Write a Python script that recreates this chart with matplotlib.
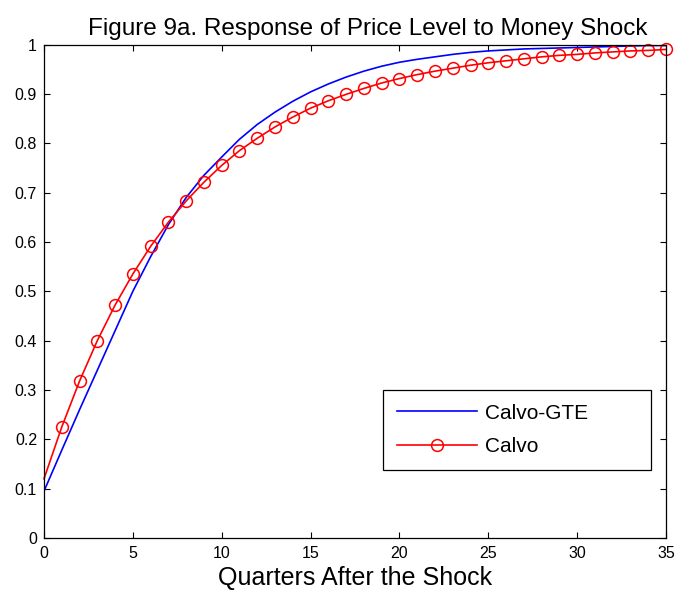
import numpy as np
import matplotlib
matplotlib.use("Agg")
import matplotlib.pyplot as plt
from matplotlib.ticker import FuncFormatter

plt.rcParams['font.family'] = ['Liberation Sans', 'DejaVu Sans']

quarters = np.arange(36)

# response of price level
calvo_gte = [0.095, 0.178, 0.260, 0.340, 0.420, 0.500, 0.570, 0.635, 0.690, 0.735,
             0.772, 0.808, 0.838, 0.863, 0.885, 0.904, 0.920, 0.934, 0.946, 0.956,
             0.964, 0.970, 0.975, 0.980, 0.984, 0.987, 0.989, 0.991, 0.992, 0.993,
             0.994, 0.995, 0.996, 0.997, 0.998, 0.998]
calvo = [0.120, 0.225, 0.318, 0.400, 0.472, 0.535, 0.591, 0.640, 0.683, 0.721,
         0.755, 0.785, 0.810, 0.833, 0.853, 0.871, 0.886, 0.899, 0.911, 0.922,
         0.931, 0.939, 0.946, 0.952, 0.958, 0.963, 0.967, 0.971, 0.975, 0.978,
         0.980, 0.983, 0.985, 0.987, 0.988, 0.990]

fig = plt.figure(figsize=(6.78, 5.99), dpi=100)
ax = fig.add_axes([0.0649, 0.1018, 0.9174, 0.8239])

ax.plot(quarters, calvo_gte, color='blue', lw=1.2, label='Calvo-GTE')
ax.plot(quarters, calvo, color='red', lw=1.2, marker='o', ms=8.5,
        mfc='none', mew=1.1, markevery=slice(1, None), clip_on=False,
        label='Calvo')

ax.set_xlim(0, 35)
ax.set_ylim(0, 1)
ax.set_xticks(np.arange(0, 36, 5))
ax.set_yticks(np.arange(0, 1.01, 0.1))
ax.yaxis.set_major_formatter(FuncFormatter(lambda v, p: '%g' % round(v, 1)))
ax.tick_params(direction='in', top=True, right=True, labelsize=11.5,
               length=4, pad=5)
ax.tick_params(axis='x', pad=6)
for s in ax.spines.values():
    s.set_linewidth(0.9)

ax.set_title('Figure 9a. Response of Price Level to Money Shock', fontsize=17.5,
             pad=7, x=0.52)
ax.set_xlabel('Quarters After the Shock', fontsize=18, labelpad=3)

leg = ax.legend(loc='lower left', bbox_to_anchor=(0.545, 0.138, 0.431, 0.16),
                mode='expand', fontsize=15, fancybox=False, edgecolor='black',
                framealpha=1, handlelength=3.85, borderpad=0.65,
                labelspacing=0.7, handletextpad=0.4, borderaxespad=0)
leg.get_frame().set_linewidth(0.9)

fig.savefig('out.png', dpi=100)
